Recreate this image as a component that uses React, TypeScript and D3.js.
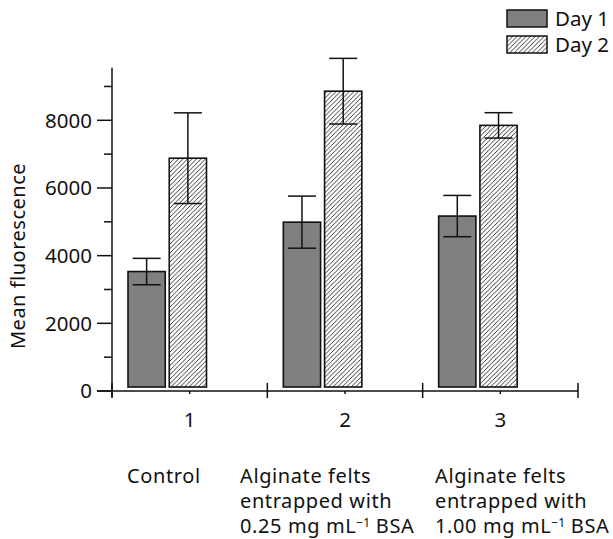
import React from "react";
import * as d3 from "d3";

// Groups along the x axis
const categories = ["1", "2", "3"];
const categoryDescriptions = [
  ["Control"],
  ["Alginate felts", "entrapped with", "0.25 mg mL|−1| BSA"],
  ["Alginate felts", "entrapped with", "1.00 mg mL|−1| BSA"],
];
const series = ["Day 1", "Day 2"];
// Mean fluorescence per group
const day1Means = [3530, 4990, 5170];
const day2Means = [6880, 8860, 7850];
// Error (±) per group
const day1Errors = [390, 770, 610];
const day2Errors = [1340, 970, 375];

const yMajorTicks = [0, 2000, 4000, 6000, 8000];
const yMinorTicks = [1000, 3000, 5000, 7000, 9000];

const W = 613;
const H = 539;
const FONT = "'Noto Sans', 'Open Sans', sans-serif";

export default function App() {
  const y = d3.scaleLinear().domain([0, 8000]).range([391, 120.3]);
  const x = d3.scaleBand<string>().domain(categories).range([112, 578]).padding(0);
  const sub = d3
    .scaleBand<string>()
    .domain(series)
    .range([16, 94.5])
    .paddingInner(0.097);

  const means = [day1Means, day2Means];
  const errs = [day1Errors, day2Errors];
  const barBase = y(0) - 4;
  const capW = 28;
  const descX = [127, 240, 435];
  const lineGap = 25;

  // one description line as tspans; "a|b|c" puts b as a superscript
  const renderLine = (line: string, xPos: number, k: number) => {
    const parts = line.split("|");
    const first = (
      <tspan key={"a" + k} x={xPos} dy={k === 0 ? 0 : lineGap}>
        {parts[0]}
      </tspan>
    );
    if (parts.length === 1) return [first];
    return [
      first,
      <tspan key={"b" + k} fontSize={12} dy={-6} letterSpacing={0}>
        {parts[1]}
      </tspan>,
      <tspan key={"c" + k} dy={6}>
        {parts[2]}
      </tspan>,
    ];
  };

  return (
    <svg
      width={W}
      height={H}
      style={{ position: "absolute", left: 0, top: 0, background: "#fff" }}
      fontFamily={FONT}
    >
      <defs>
        <pattern id="hatch" patternUnits="userSpaceOnUse" width={4.5} height={4.5}>
          <rect width={4.5} height={4.5} fill="#fff" />
          <path
            d="M-1,1 L1,-1 M0,4.5 L4.5,0 M3.5,5.5 L5.5,3.5"
            stroke="#222"
            strokeWidth={0.9}
          />
        </pattern>
      </defs>

      {/* bars */}
      {categories.map((c, i) =>
        series.map((s, j) => {
          const bx = (x(c) as number) + (sub(s) as number);
          const bw = sub.bandwidth();
          const top = y(means[j][i]);
          return (
            <rect
              key={c + s}
              x={bx}
              y={top}
              width={bw}
              height={barBase - top}
              fill={j === 0 ? "#808080" : "url(#hatch)"}
              stroke="#111"
              strokeWidth={1.6}
            />
          );
        })
      )}

      {/* error bars */}
      {categories.map((c, i) =>
        series.map((s, j) => {
          const cx = (x(c) as number) + (sub(s) as number) + sub.bandwidth() / 2;
          const hi = y(means[j][i] + errs[j][i]);
          const lo = y(means[j][i] - errs[j][i]);
          return (
            <g key={"e" + c + s} stroke="#111" strokeWidth={1.5}>
              <line x1={cx} x2={cx} y1={hi} y2={lo} />
              <line x1={cx - capW / 2} x2={cx + capW / 2} y1={hi} y2={hi} />
              <line x1={cx - capW / 2} x2={cx + capW / 2} y1={lo} y2={lo} />
            </g>
          );
        })
      )}

      {/* y axis */}
      <g stroke="#111" strokeWidth={1.5}>
        <line x1={112} x2={112} y1={y(0) + 6} y2={y(9550)} />
        {yMajorTicks.map((t) => (
          <line key={"M" + t} x1={97} x2={112} y1={y(t)} y2={y(t)} />
        ))}
        {yMinorTicks.map((t) => (
          <line key={"m" + t} x1={104} x2={112} y1={y(t)} y2={y(t)} />
        ))}
      </g>
      {yMajorTicks.map((t) => (
        <text
          key={"l" + t}
          x={92}
          y={y(t)}
          dy="0.36em"
          textAnchor="end"
          fontSize={20.5}
          fill="#111"
        >
          {t}
        </text>
      ))}
      <text
        transform={`translate(25,${256}) rotate(-90)`}
        textAnchor="middle"
        fontSize={20}
        letterSpacing={0.5}
        fill="#111"
      >
        Mean fluorescence
      </text>

      {/* x axis */}
      <g stroke="#111" strokeWidth={1.5}>
        <line x1={97} x2={578} y1={y(0)} y2={y(0)} />
        {[...categories.map((c) => x(c) as number), 578].map((px, k) => (
          <line key={"xt" + k} x1={px} x2={px} y1={y(0) - 8} y2={y(0) + 7} />
        ))}
        {categories.map((c) => {
          const cx = (x(c) as number) + x.bandwidth() / 2;
          return <line key={"xc" + c} x1={cx} x2={cx} y1={y(0)} y2={y(0) + 3} />;
        })}
      </g>
      {categories.map((c) => (
        <text
          key={"xl" + c}
          x={(x(c) as number) + x.bandwidth() / 2}
          y={427}
          textAnchor="middle"
          fontSize={20.5}
          fill="#111"
        >
          {c}
        </text>
      ))}
      {categoryDescriptions.map((lines, i) => (
        <text
          key={"d" + i}
          x={descX[i]}
          y={483}
          fontSize={20}
          letterSpacing={0.6}
          fill="#111"
        >
          {lines.flatMap((line, k) => renderLine(line, descX[i], k))}
        </text>
      ))}

      {/* legend */}
      {series.map((s, j) => (
        <g key={"lg" + s}>
          <rect
            x={507}
            y={10 + j * 26}
            width={40}
            height={17}
            fill={j === 0 ? "#808080" : "url(#hatch)"}
            stroke="#111"
            strokeWidth={1.5}
          />
          <text x={555} y={26 + j * 25.5} fontSize={20.5} fill="#111">
            {s}
          </text>
        </g>
      ))}
    </svg>
  );
}
